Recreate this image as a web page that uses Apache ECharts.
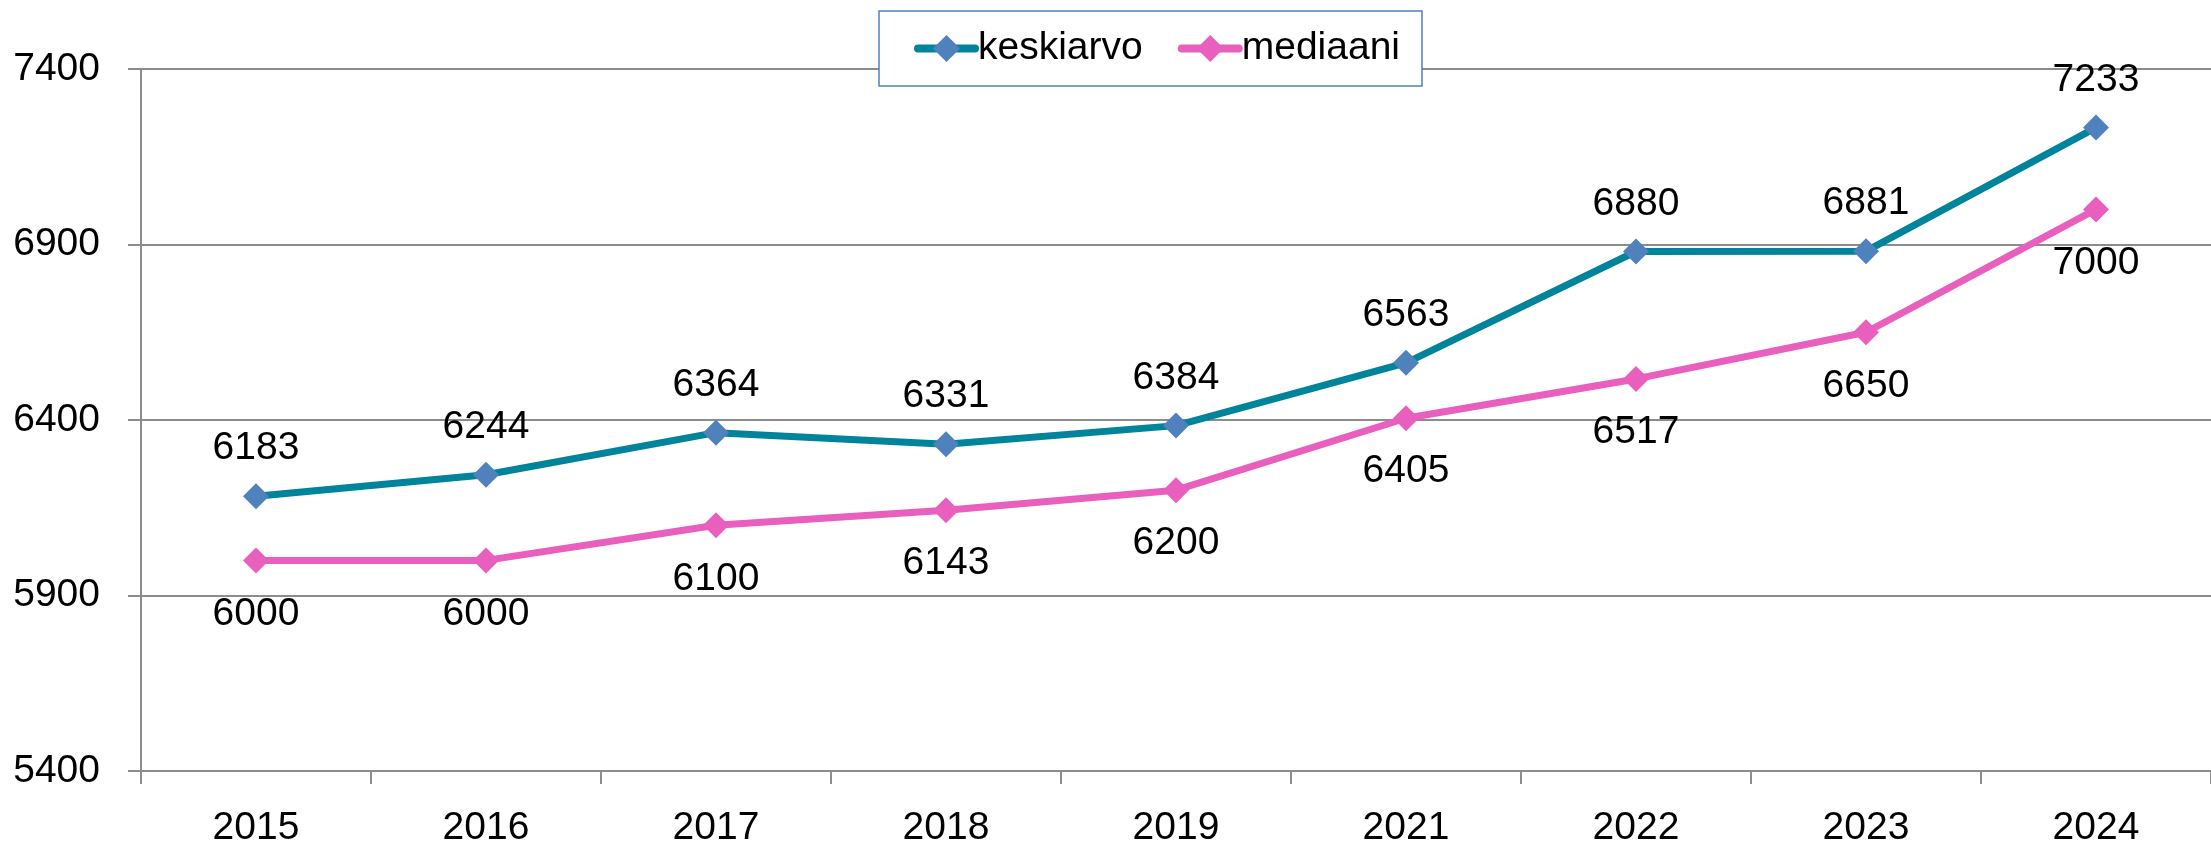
<!DOCTYPE html>
<html>
<head>
<meta charset="utf-8">
<script src="https://cdn.jsdelivr.net/npm/echarts@6/dist/echarts.min.js"></script>
<style>
  html, body { margin: 0; padding: 0; background: #ffffff; }
  #chart { width: 2211px; height: 848px; }
</style>
</head>
<body>
<div id="chart"></div>
<script>
const categories = ['2015', '2016', '2017', '2018', '2019', '2021', '2022', '2023', '2024'];
const keskiarvo = [6183, 6244, 6364, 6331, 6384, 6563, 6880, 6881, 7233];
const mediaani = [6000, 6000, 6100, 6143, 6200, 6405, 6517, 6650, 7000];
const seriesNames = ['keskiarvo', 'mediaani'];
const yMin = 5400, yMax = 7400, yInterval = 500;

const FONT = '"Liberation Sans", Arial, sans-serif';
const FS = 39;
const chart = echarts.init(document.getElementById('chart'), null, { renderer: 'canvas' });
chart.setOption({
  animation: false,
  backgroundColor: '#ffffff',
  textStyle: { fontFamily: FONT, color: '#000000' },
  grid: { left: 141, right: -9, top: 69, bottom: 74, containLabel: false },
  legend: {
    data: seriesNames,
    left: 879, top: 11,
    padding: [18, 22, 18, 35],
    backgroundColor: '#ffffff',
    borderColor: '#4F81BD',
    borderWidth: 1.5,
    borderRadius: 0,
    itemWidth: 57, itemHeight: 34,
    itemGap: 35,
    lineStyle: { width: 8, cap: 'round' },
    textStyle: { fontFamily: FONT, fontSize: FS, color: '#000000', padding: [0, 0, 0, -2] }
  },
  xAxis: {
    type: 'category',
    data: categories,
    boundaryGap: true,
    axisLine: { show: true, lineStyle: { color: '#8C8C8C', width: 2 } },
    axisTick: { show: true, alignWithLabel: false, length: 13, lineStyle: { color: '#8C8C8C', width: 2 } },
    axisLabel: { fontFamily: FONT, fontSize: FS, color: '#000000', margin: 38 },
    splitLine: { show: false }
  },
  yAxis: {
    type: 'value',
    min: yMin, max: yMax, interval: yInterval,
    axisLine: { show: true, lineStyle: { color: '#8C8C8C', width: 2 } },
    axisTick: { show: true, length: 13, lineStyle: { color: '#8C8C8C', width: 2 } },
    axisLabel: { fontFamily: FONT, fontSize: FS, color: '#000000', margin: 41, formatter: v => String(v) },
    splitLine: { show: true, lineStyle: { color: '#8C8C8C', width: 2 } }
  },
  series: [
    {
      name: seriesNames[0],
      type: 'line',
      data: keskiarvo,
      symbol: 'diamond',
      symbolSize: 26,
      lineStyle: { color: '#00849B', width: 7 },
      itemStyle: { color: '#4F81BD', borderWidth: 0 },
      label: { show: true, position: 'top', distance: 15, fontFamily: FONT, fontSize: FS, color: '#000000' },
      z: 3
    },
    {
      name: seriesNames[1],
      type: 'line',
      data: mediaani,
      symbol: 'diamond',
      symbolSize: 26,
      lineStyle: { color: '#E85FBE', width: 7 },
      itemStyle: { color: '#E85FBE', borderWidth: 0 },
      label: { show: true, position: 'bottom', distance: 21, fontFamily: FONT, fontSize: FS, color: '#000000' },
      z: 3
    }
  ]
});
</script>
</body>
</html>
